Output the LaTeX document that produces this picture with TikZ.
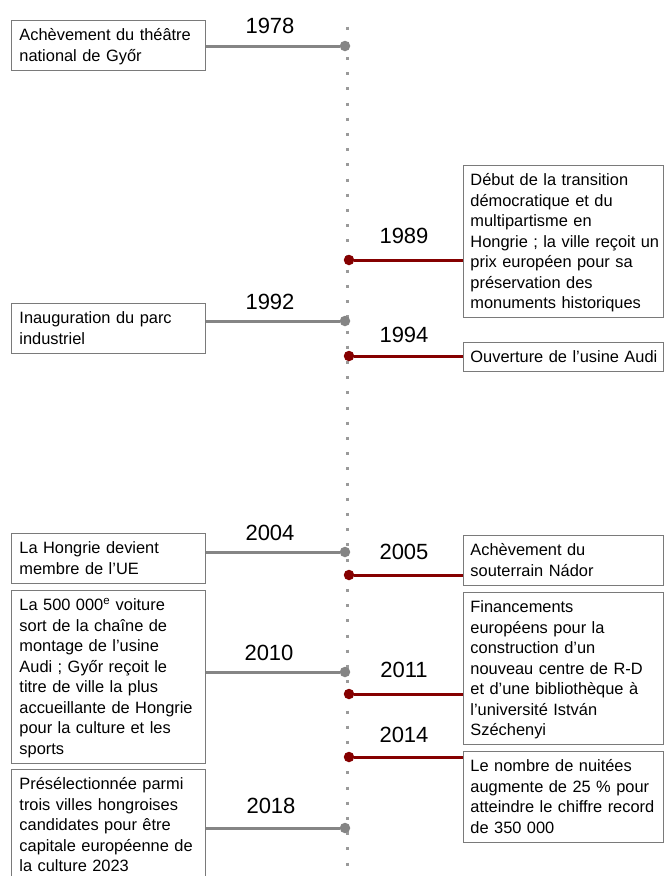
\documentclass[tikz,border=0pt]{standalone}
\usepackage{fontspec}
\setmainfont{Liberation Sans}
\definecolor{tlgray}{HTML}{858585}
\definecolor{tlred}{HTML}{850000}
\definecolor{boxline}{HTML}{7A7A7A}
\definecolor{axisgray}{HTML}{9A9A9A}
\newcommand\evfont{\fontsize{16.4pt}{20.5pt}\selectfont}
\newcommand\yrfont{\fontsize{22pt}{26pt}\selectfont}

\begin{document}
\begin{tikzpicture}[x=1pt,y=-1pt,
  evbox/.style={draw=boxline, line width=0.9pt, fill=white, anchor=north west,
    align=left, inner ysep=0pt, font=\evfont, text=black,
    execute at begin node={\rule{0pt}{20.5pt}},
    execute at end node={\rule[-8.5pt]{0pt}{8.5pt}}},
  leftbox/.style={evbox, text width=178pt, inner xsep=8pt},
  rightbox/.style={evbox, text width=186pt, inner xsep=7pt},
  year/.style={font=\yrfont, inner sep=0pt, text=black},
  gdot/.style={circle, fill=tlgray, inner sep=0pt, minimum size=10.5pt},
  rdot/.style={circle, fill=tlred, inner sep=0pt, minimum size=10.5pt},
  gline/.style={draw=tlgray, line width=3pt},
  rline/.style={draw=tlred, line width=3pt},
]
\useasboundingbox (0,0) rectangle (665,876);

% dotted time axis
\coordinate (axtop) at (347,26.5);
\coordinate (axbot) at (347,876);
\draw[axisgray, line width=3pt, dash pattern=on 3pt off 12.2pt] (axtop) -- (axbot);

% ---- events on the left (grey) ----
\node[leftbox] (b1978) at (11,20) {Achèvement du théâtre\\national de Győr};
\node[year] (y1978) at (270,25.5) {1978};
\node[gdot] (d1978) at (345,46) {};
\draw[gline] (d1978.west) -- (d1978 -| b1978.east);

\node[leftbox] (b1992) at (11,303) {Inauguration du parc\\industriel};
\node[year] (y1992) at (270,302) {1992};
\node[gdot] (d1992) at (345,321) {};
\draw[gline] (d1992.west) -- (d1992 -| b1992.east);

\node[leftbox] (b2004) at (11,533) {La Hongrie devient\\membre de l’UE};
\node[year] (y2004) at (270,533) {2004};
\node[gdot] (d2004) at (345,552) {};
\draw[gline] (d2004.west) -- (d2004 -| b2004.east);

\node[leftbox] (b2010) at (11,590) {La 500 000\textsuperscript{e} voiture\\sort de la chaîne de\\montage de l’usine\\Audi ; Győr reçoit le\\titre de ville la plus\\accueillante de Hongrie\\pour la culture et les\\sports};
\node[year] (y2010) at (269,653) {2010};
\node[gdot] (d2010) at (345,672) {};
\draw[gline] (d2010.west) -- (d2010 -| b2010.east);

\node[leftbox] (b2018) at (11,769) {Présélectionnée parmi\\trois villes hongroises\\candidates pour être\\capitale européenne de\\la culture 2023};
\node[year] (y2018) at (271,806) {2018};
\node[gdot] (d2018) at (345,828) {};
\draw[gline] (d2018.west) -- (d2018 -| b2018.east);

% ---- events on the right (dark red) ----
\node[rightbox] (b1989) at (463,165) {Début de la transition\\démocratique et du\\multipartisme en\\\mbox{Hongrie ; la ville reçoit un}\\prix européen pour sa\\préservation des\\monuments historiques};
\node[year] (y1989) at (404,236) {1989};
\node[rdot] (d1989) at (349,260) {};
\draw[rline] (d1989.east) -- (d1989 -| b1989.west);

\node[rightbox] (b1994) at (463,342) {\mbox{Ouverture de l’usine Audi}};
\node[year] (y1994) at (404,335) {1994};
\node[rdot] (d1994) at (349,356) {};
\draw[rline] (d1994.east) -- (d1994 -| b1994.west);

\node[rightbox] (b2005) at (463,535) {Achèvement du\\souterrain Nádor};
\node[year] (y2005) at (404,551.5) {2005};
\node[rdot] (d2005) at (349,575) {};
\draw[rline] (d2005.east) -- (d2005 -| b2005.west);

\node[rightbox] (b2011) at (463,592) {Financements\\européens pour la\\construction d’un\\nouveau centre de R-D\\et d’une bibliothèque à\\l’université István\\Széchenyi};
\node[year] (y2011) at (404,670) {2011};
\node[rdot] (d2011) at (349,694) {};
\draw[rline] (d2011.east) -- (d2011 -| b2011.west);

\node[rightbox] (b2014) at (463,751) {Le nombre de nuitées\\augmente de 25 \% pour\\\mbox{atteindre le chiffre record}\\de 350 000};
\node[year] (y2014) at (404,735) {2014};
\node[rdot] (d2014) at (349,757) {};
\draw[rline] (d2014.east) -- (d2014 -| b2014.west);
\end{tikzpicture}
\end{document}
